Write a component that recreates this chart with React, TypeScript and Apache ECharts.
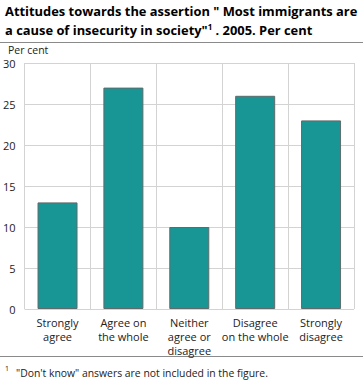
import React, { useEffect, useRef } from "react";
import * as echarts from "echarts";

const categories = [
  "Strongly\nagree",
  "Agree on\nthe whole",
  "Neither\nagree or\ndisagree",
  "Disagree\non the whole",
  "Strongly\ndisagree",
];
const values = [13, 27, 10, 26, 23];
const yTicks = { min: 0, max: 30, interval: 5 };

export default function App() {
  const ref = useRef<HTMLDivElement>(null);
  useEffect(() => {
    const chart = echarts.init(ref.current!, null, { renderer: "svg" });
    const font = "'Open Sans', sans-serif";
    chart.setOption({
      animation: false,
      textStyle: { fontFamily: font },
      grid: { left: 23, right: 9, top: 63, bottom: 73, containLabel: false },
      graphic: [
        {
          type: "text",
          left: 5,
          top: 4,
          style: {
            text: 'Attitudes towards the assertion " Most immigrants are',
            font: `bold 12.9px ${font}`,
            fill: "#000",
          },
        },
        {
          type: "text",
          left: 5,
          top: 22,
          style: {
            text: '{a|a cause of insecurity in society"}{s|1}{a| . 2005. Per cent}',
            rich: {
              a: { font: `bold 12.9px ${font}`, fill: "#000", verticalAlign: "bottom" },
              s: { font: `bold 8px ${font}`, fill: "#000", verticalAlign: "top", padding: [0, 0, 6, 0] },
            },
          },
        },
        {
          type: "line",
          shape: { x1: 0, y1: 42.5, x2: 363, y2: 42.5 },
          style: { stroke: "#8a8a8a", lineWidth: 1 },
        },
        {
          type: "text",
          left: 8,
          top: 44,
          style: { text: "Per cent", font: `10.5px ${font}`, fill: "#222" },
        },
        {
          type: "line",
          shape: { x1: 0, y1: 356.5, x2: 363, y2: 356.5 },
          style: { stroke: "#8a8a8a", lineWidth: 1 },
        },
        {
          type: "text",
          left: 5,
          top: 365,
          style: { text: "1", font: `7px ${font}`, fill: "#222" },
        },
        {
          type: "text",
          left: 16,
          top: 368,
          style: {
            text: '"Don\'t know" answers are not included in the figure.',
            font: `10.4px ${font}`,
            fill: "#222",
          },
        },
      ],
      xAxis: {
        type: "category",
        data: categories,
        boundaryGap: true,
        axisLine: { show: false },
        axisTick: { show: false },
        axisLabel: {
          interval: 0,
          margin: 6,
          fontSize: 11,
          lineHeight: 14,
          color: "#222",
          fontFamily: font,
        },
        splitLine: { show: true, interval: 0, lineStyle: { color: "#d3d3d3", width: 1 } },
      },
      yAxis: {
        type: "value",
        min: yTicks.min,
        max: yTicks.max,
        interval: yTicks.interval,
        axisLine: { show: false },
        axisTick: { show: false },
        axisLabel: { fontSize: 11, color: "#222", margin: 9, fontFamily: font },
        splitLine: { show: true, lineStyle: { color: "#d3d3d3", width: 1 } },
      },
      series: [
        {
          type: "bar",
          data: values,
          barWidth: 40,
          itemStyle: { color: "#189696", borderColor: "#5f6a6a", borderWidth: 1 },
        },
      ],
    });
    return () => chart.dispose();
  }, []);
  return <div ref={ref} style={{ width: 363, height: 382, position: "absolute", left: 0, top: 0 }} />;
}
